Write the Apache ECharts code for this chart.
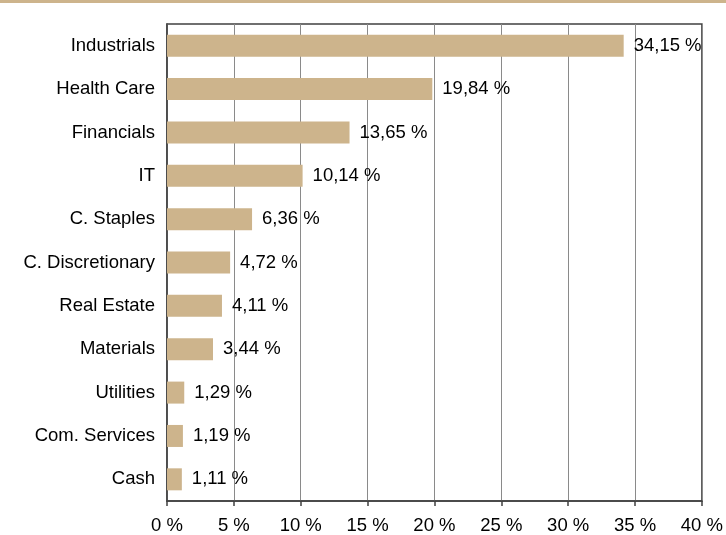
<!DOCTYPE html>
<html><head><meta charset="utf-8">
<script src="https://cdn.jsdelivr.net/npm/echarts@6/dist/echarts.min.js"></script>
<style>html,body{margin:0;padding:0;background:#fff}#c{width:726px;height:535px}</style>
</head><body><div id="c"></div>
<script>
const categories = ["Industrials","Health Care","Financials","IT","C. Staples","C. Discretionary","Real Estate","Materials","Utilities","Com. Services","Cash"];
const weights = [34.15,19.84,13.65,10.14,6.36,4.72,4.11,3.44,1.29,1.19,1.11];
const xTicks = [0,5,10,15,20,25,30,35,40];

const FONT = '"Liberation Sans", Arial, sans-serif';
const tan = '#CDB48C';
const chart = echarts.init(document.getElementById('c'), null, {renderer:'canvas'});
chart.setOption({
  animation:false,
  graphic:[{type:'rect', left:0, top:0, shape:{width:726, height:3}, style:{fill:tan}}],
  grid:{left:167, right:22, top:24, bottom:31, show:true, borderColor:'#404040', borderWidth:1.5, containLabel:false},
  xAxis:{type:'value', min:xTicks[0], max:xTicks[xTicks.length-1], interval:5,
    axisLine:{show:true, lineStyle:{color:'#404040', width:1.5}},
    axisTick:{show:true, length:5, lineStyle:{color:'#404040', width:1.5}},
    axisLabel:{margin:15, color:'#000', fontFamily:FONT, fontSize:18.5, formatter:v=>v+' %'},
    splitLine:{show:true, lineStyle:{color:'#8a8a8a', width:1}}},
  yAxis:{type:'category', data:categories, inverse:true,
    axisLine:{show:true, lineStyle:{color:'#404040', width:1.5}},
    axisTick:{show:false},
    axisLabel:{margin:12, color:'#000', fontFamily:FONT, fontSize:18.5}},
  series:[{type:'bar', data:weights, barWidth:22, itemStyle:{color:tan},
    label:{show:true, position:'right', distance:10, color:'#000', fontFamily:FONT, fontSize:18.5,
      formatter:p=>p.value.toFixed(2).replace('.',',')+' %'}}]
});
</script></body></html>
